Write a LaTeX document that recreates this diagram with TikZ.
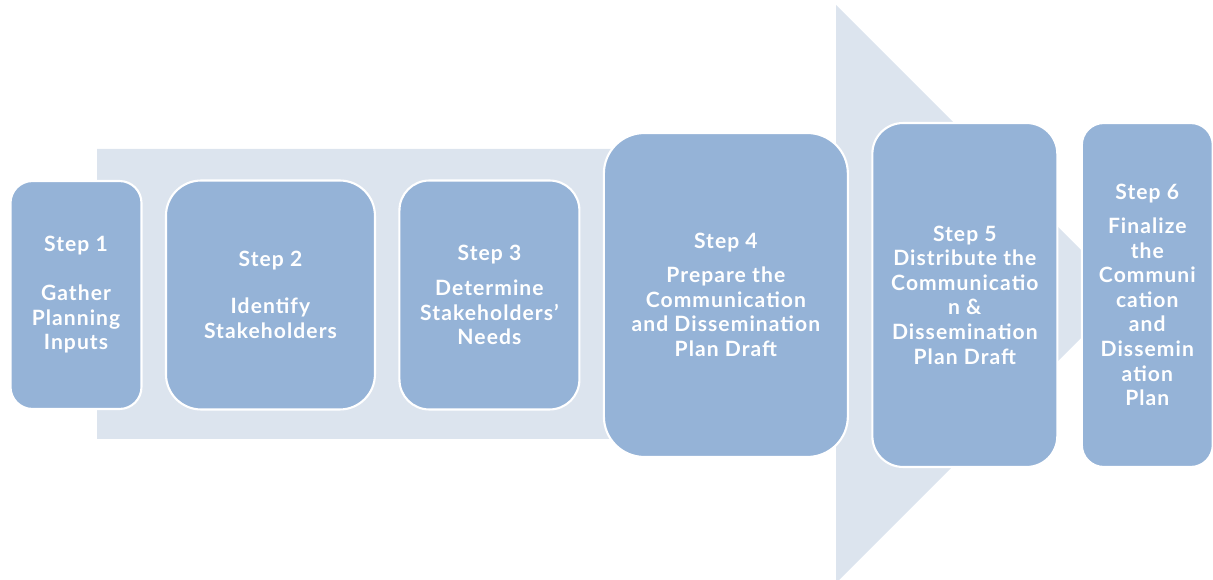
\documentclass[tikz,border=0pt]{standalone}
\usepackage{fontspec}
\setmainfont{Lato}[LetterSpace=5]
\usepackage{tikz}
\usetikzlibrary{positioning}

\definecolor{stepblue}{HTML}{95B3D7}
\definecolor{arrowback}{HTML}{DCE4EE}

\begin{document}
\begin{tikzpicture}[
    x=0.02cm, y=-0.02cm,
    stepbox/.style={draw=white, line width=1.2pt, fill=stepblue, text=white, align=center,
        font=\fontsize{12}{14}\selectfont\bfseries, inner sep=0pt, outer sep=0pt},
    node distance=0.49cm
]
\useasboundingbox (0,0) rectangle (1213,580);
\clip (0,0) rectangle (1213,580);
\fill[arrowback] (97,149) -- (836,149) -- (836,5) -- (1125,294) -- (836,583) -- (836,439) -- (97,439) -- cycle;

\node[stepbox, minimum width=2.62cm, minimum height=4.56cm, rounded corners=12.5pt] (step1) at (76,295)
    {Step 1\\[13.8pt] Gather\\Planning\\Inputs};
\node[stepbox, minimum width=4.18cm, minimum height=4.58cm, rounded corners=20pt, right=of step1] (step2)
    {Step 2\\[12.6pt] Identify\\Stakeholders};
\node[stepbox, minimum width=3.6cm, minimum height=4.58cm, rounded corners=17pt, right=of step2] (step3)
    {Step 3\\[5.8pt] Determine\\Stakeholders’\\Needs};
\node[stepbox, minimum width=4.88cm, minimum height=6.48cm, rounded corners=23pt, right=of step3] (step4)
    {Step 4\\[5.3pt] Prepare the\\Communication\\and Dissemination\\Plan Draft};
\node[stepbox, minimum width=3.7cm, minimum height=6.88cm, rounded corners=17.5pt, right=of step4] (step5)
    {Step 5\\Distribute the\\Communicatio\\n \&\\Dissemination\\Plan Draft};
\node[stepbox, minimum width=2.62cm, minimum height=6.88cm, rounded corners=12.5pt, right=of step5] (step6)
    {Step 6\\[5.3pt] Finalize\\the\\Communi\\cation\\and\\Dissemin\\ation\\Plan};
\end{tikzpicture}
\end{document}
